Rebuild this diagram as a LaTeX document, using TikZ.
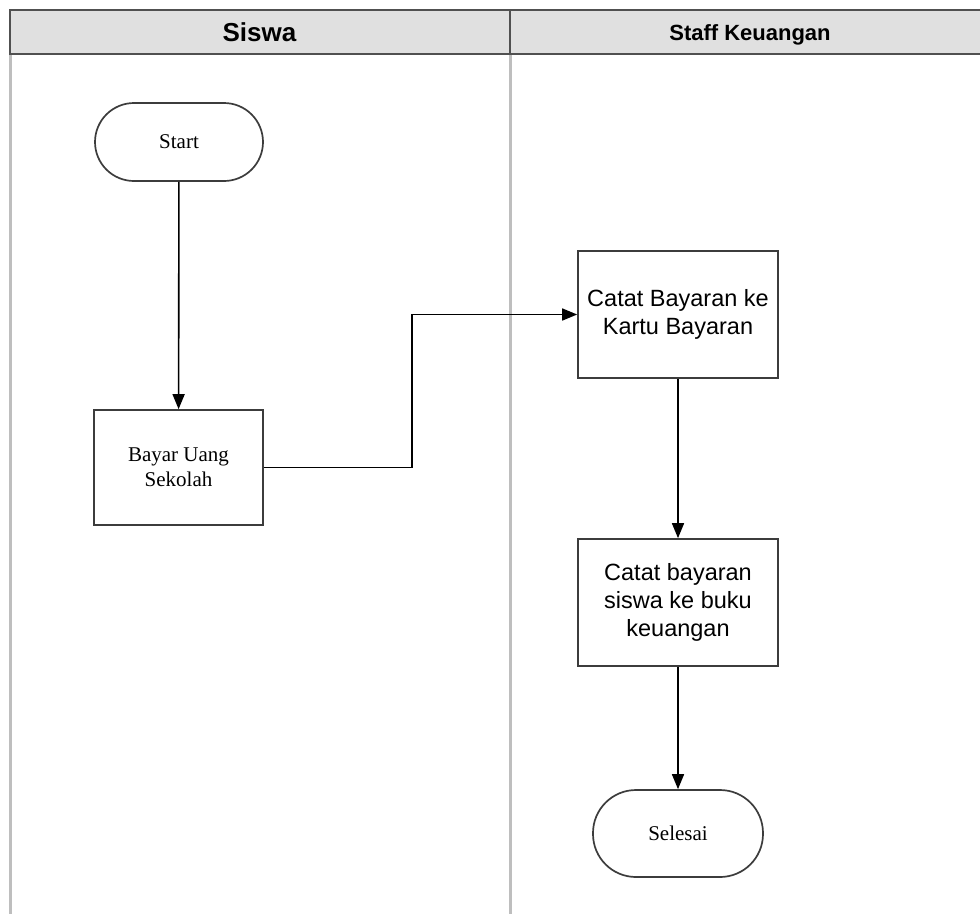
\documentclass[tikz,border=0pt]{standalone}
\usepackage{fontspec}
\setmainfont{Liberation Serif}
\newfontfamily\arialfont{Liberation Sans}
\usetikzlibrary{arrows.meta}
\definecolor{hdrfill}{HTML}{E0E0E0}
\definecolor{hdrline}{HTML}{505050}
\definecolor{laneline}{HTML}{BEBEBE}
\definecolor{boxline}{HTML}{3C3C3C}
\tikzset{
  box/.style={draw=boxline, line width=1.7pt, fill=white, align=center, inner sep=0pt},
  procbox/.style={box, rectangle},
  term/.style={box, rectangle, rounded corners=39pt},
  serifsz/.style={font=\fontsize{21}{25}\selectfont},
  sanssz/.style={font=\arialfont\fontsize{23.5}{28}\selectfont},
  flow/.style={draw=black, line width=1.6pt, -{Triangle[length=15pt,width=12pt]}},
  hdrtext/.style={anchor=base}
}
\begin{document}
\begin{tikzpicture}[x=1pt,y=-1pt]
\useasboundingbox (0,0) rectangle (980,914);
% swimlane separators
\draw[laneline, line width=3pt] (10,54) -- (10,914);
\draw[laneline, line width=3pt] (510,54) -- (510,914);
% header band
\draw[fill=hdrfill, draw=hdrline, line width=2pt] (10,10) rectangle (995,54);
\draw[hdrline, line width=1.5pt] (510,10) -- (510,54);
\node[hdrtext, font=\arialfont\bfseries\fontsize{26}{30}\selectfont] (siswa) at (259.5,41) {Siswa};
\node[hdrtext, font=\arialfont\bfseries\fontsize{22}{26}\selectfont] (staff) at (750,40) {Staff Keuangan};
% flow nodes
\node[term, serifsz, minimum width=168pt, minimum height=78pt] (start) at (179,142) {Start};
\node[procbox, serifsz, minimum width=169pt, minimum height=115pt] (bayar) at (178.5,467.5) {Bayar Uang\\Sekolah};
\node[procbox, sanssz, minimum width=200pt, minimum height=127pt] (catat1) at (678,314.5) {Catat Bayaran ke\\Kartu Bayaran};
\node[procbox, sanssz, minimum width=200pt, minimum height=127pt] (catat2) at (678,602.5) {Catat bayaran\\siswa ke buku\\keuangan};
\node[term, serifsz, rounded corners=43pt, minimum width=170pt, minimum height=87pt] (selesai) at (678,833.5) {Selesai};
% connectors
\draw[flow] (start) -- (bayar);
\draw[flow] (bayar.east) -- ++(148,0) |- (catat1.west);
\draw[flow] (catat1) -- (catat2);
\draw[flow] (catat2) -- (selesai);
\end{tikzpicture}
\end{document}
